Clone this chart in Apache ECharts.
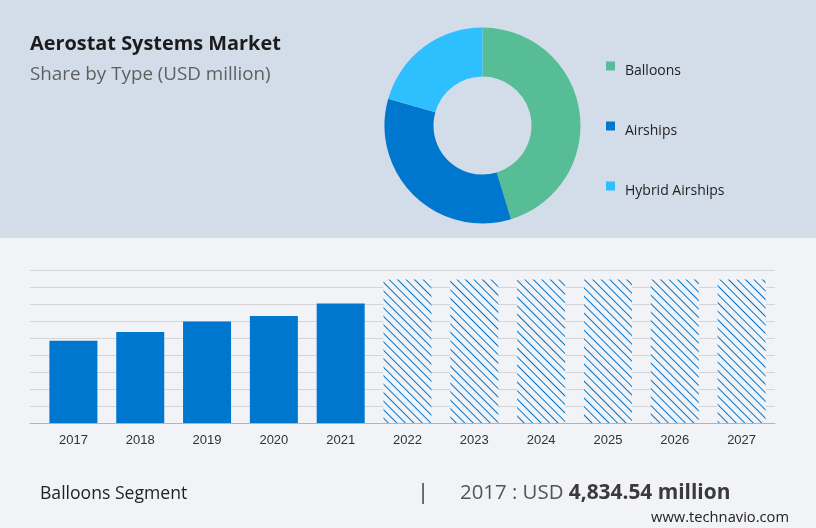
<!DOCTYPE html>
<html>
<head>
<meta charset="utf-8">
<style>
html,body{margin:0;padding:0;background:#f2f3f6;}
#main{width:816px;height:528px;}
</style>
<script src="https://cdn.jsdelivr.net/npm/echarts@6/dist/echarts.min.js"></script>
</head>
<body>
<div id="main"></div>
<script>
var years = ['2017','2018','2019','2020','2021','2022','2023','2024','2025','2026','2027'];
var actualValues = [4834.54,5353,5970,6295,7030];
var forecastValue = 8440;
var segments = ['Balloons','Airships','Hybrid Airships'];
var shares = [45.3,34.1,20.6];
var segmentColors = ['#56bd96','#0077cf','#2ebfff'];

var barData = years.map(function(y,i){
    if(i < actualValues.length) return actualValues[i];
    return {
        value: forecastValue,
        itemStyle: {
            color: '#f2f3f6',
            decal: {
                symbol: 'rect',
                color: '#0077cf',
                backgroundColor: '#f2f3f6',
                dashArrayX: [1,0],
                dashArrayY: [0.8,4.2],
                rotation: Math.PI/4
            }
        }
    };
});

var font = '"Open Sans","Noto Sans",sans-serif';
var myChart = echarts.init(document.getElementById('main'), null, {renderer:'canvas'});
var option = {
    animation: false,
    backgroundColor: '#f2f3f6',
    graphic: [
        {type:'rect', z:-10, shape:{x:0,y:0,width:816,height:238}, style:{fill:'#d3ddea'}}
    ],
    title: [
        {text:'Aerostat Systems Market', left:30, top:34, padding:0, textStyle:{fontFamily:font,fontSize:19.9,fontWeight:'bold',color:'#1c1c1c'}},
        {text:'Share by Type (USD million)', left:30, top:65, padding:0, textStyle:{fontFamily:font,fontSize:18.8,fontWeight:'normal',color:'#5f5f5f'}},
        {text:'Balloons Segment', left:40, top:485, padding:0, textStyle:{fontFamily:font,fontSize:17.6,fontWeight:'normal',color:'#222'}},
        {text:'|', left:417, top:482, padding:0, textStyle:{fontFamily:font,fontSize:22,fontWeight:'normal',color:'#444'}},
        {text:'2017 : USD {b|4,834.54 million}', left:460, top:483, padding:0, textStyle:{fontFamily:font,fontSize:20.4,fontWeight:'normal',color:'#555',
            rich:{b:{fontFamily:font,fontSize:20.9,fontWeight:'bold',color:'#3a3a3a'}}}},
        {text:'www.technavio.com', right:27, top:510, padding:0, textStyle:{fontFamily:font,fontSize:14.7,fontWeight:'normal',color:'#222'}}
    ],
    legend: {
        orient:'vertical', left:606, top:51, icon:'rect', padding:0,
        itemWidth:9, itemHeight:9, itemGap:30,
        data: segments,
        formatter:'{a|{name}}',
        textStyle:{padding:[0,0,0,5],
            rich:{a:{fontFamily:font,fontSize:14,color:'#222',height:20,lineHeight:20,padding:[10,0,0,0]}}}
    },
    grid: [
        {left:30, right:41, top:270, height:153},
        {left:40, right:41, top:270, height:153}
    ],
    xAxis: [
        {gridIndex:0, type:'value', min:0, max:1,
            axisLabel:{show:false}, axisTick:{show:false}, splitLine:{show:false},
            axisLine:{show:true,lineStyle:{color:'#b4b4b8',width:1}}},
        {gridIndex:1, type:'category', data:years,
            axisLine:{show:false}, axisTick:{show:false},
            axisLabel:{margin:11,fontFamily:'"Liberation Sans",Arial,sans-serif',fontSize:13,color:'#333',interval:0}}
    ],
    yAxis: [
        {gridIndex:0, type:'value', min:0, max:9000, interval:1000,
            axisLabel:{show:false}, axisLine:{show:false}, axisTick:{show:false},
            splitLine:{lineStyle:{color:'#d4d4d9',width:1}}},
        {gridIndex:1, type:'value', min:0, max:9000, interval:1000, show:false, splitLine:{show:false}}
    ],
    series: [
        {
            type:'bar', xAxisIndex:1, yAxisIndex:1, data:barData, barWidth:48,
            itemStyle:{color:'#0077cf'}, z:3
        },
        {
            type:'pie', radius:[49,98], center:[482.5,125.5], startAngle:90, clockwise:true,
            label:{show:false}, labelLine:{show:false}, silent:true,
            color:segmentColors,
            data:segments.map(function(n,i){return {name:n,value:shares[i]};})
        }
    ]
};
myChart.setOption(option);
</script>
</body>
</html>
